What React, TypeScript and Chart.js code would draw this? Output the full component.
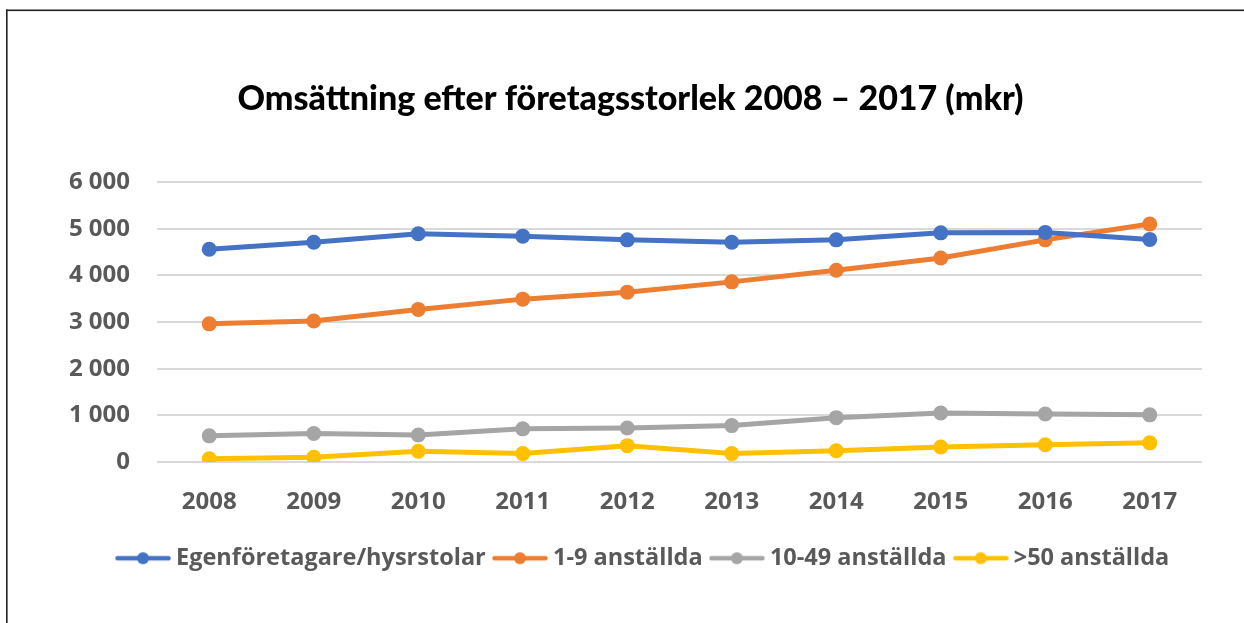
import React, { useEffect, useRef } from "react";
import { Chart, registerables } from "chart.js";

Chart.register(...registerables);

const years = ["2008", "2009", "2010", "2011", "2012", "2013", "2014", "2015", "2016", "2017"];
const egenforetagare = [4560, 4710, 4890, 4840, 4760, 4710, 4760, 4910, 4920, 4770];
const anstallda1to9 = [2960, 3020, 3270, 3490, 3640, 3860, 4110, 4370, 4760, 5100];
const anstallda10to49 = [560, 610, 580, 710, 730, 780, 950, 1050, 1030, 1010];
const anstallda50plus = [70, 100, 230, 180, 350, 180, 240, 320, 370, 410];

const seriesLabels = ["Egenföretagare/hysrstolar", "1-9 anställda", "10-49 anställda", ">50 anställda"];
const seriesColors = ["#4472C4", "#ED7D31", "#A5A5A5", "#FFC000"];
const titleText = "Omsättning efter företagsstorlek 2008 – 2017 (mkr)";

function makeLegendIcon(color: string): HTMLCanvasElement {
  const c = document.createElement("canvas");
  c.width = 56;
  c.height = 14;
  const ctx = c.getContext("2d")!;
  ctx.strokeStyle = color;
  ctx.lineWidth = 4.5;
  ctx.lineCap = "round";
  ctx.beginPath();
  ctx.moveTo(2.5, 7);
  ctx.lineTo(53.5, 7);
  ctx.stroke();
  ctx.fillStyle = color;
  ctx.beginPath();
  ctx.arc(28, 7, 6, 0, Math.PI * 2);
  ctx.fill();
  return c;
}

const framePlugin = {
  id: "frame",
  beforeDraw(chart: any) {
    const ctx = chart.ctx;
    ctx.save();
    ctx.fillStyle = "#ffffff";
    ctx.fillRect(0, 0, chart.width, chart.height);
    ctx.fillStyle = "#222222";
    ctx.fillRect(6, 9.5, chart.width - 6, 1.6);
    ctx.fillRect(6, 9.5, 1.6, chart.height - 9.5);
    ctx.restore();
  },
  afterLayout(chart: any) {
    if (chart.legend) {
      chart.legend.left += 15;
      chart.legend.right += 15;
    }
  },
};

export default function App() {
  const canvasRef = useRef<HTMLCanvasElement | null>(null);

  useEffect(() => {
    if (!canvasRef.current) return;
    const icons = seriesColors.map((c) => makeLegendIcon(c));
    const values = [egenforetagare, anstallda1to9, anstallda10to49, anstallda50plus];
    const chart = new Chart(canvasRef.current, {
      type: "line",
      data: {
        labels: years,
        datasets: values.map((v, i) => ({
          label: seriesLabels[i],
          data: v,
          borderColor: seriesColors[i],
          backgroundColor: seriesColors[i],
          borderWidth: 5,
          pointRadius: 7.5,
          pointBorderWidth: 0,
          pointBackgroundColor: seriesColors[i],
          pointHoverRadius: 7.5,
          tension: 0,
          fill: false,
        })),
      },
      options: {
        animation: false,
        responsive: true,
        maintainAspectRatio: false,
        layout: { padding: { left: 59, right: 42, top: 0, bottom: 43 } },
        plugins: {
          tooltip: { enabled: false },
          title: {
            display: true,
            text: titleText,
            color: "#000000",
            font: { family: "Lato", size: 34, weight: "900", lineHeight: 1.2 },
            padding: { top: 79, bottom: 62.2 },
          },
          legend: {
            display: true,
            position: "bottom",
            labels: {
              usePointStyle: true,
              pointStyleWidth: 42.5,
              padding: 13,
              color: "#595959",
              font: { family: "'Open Sans'", size: 23.5, weight: "bold" },
              generateLabels: (ch: any) =>
                ch.data.datasets.map((ds: any, i: number) => ({
                  text: ds.label,
                  fillStyle: ds.borderColor,
                  strokeStyle: ds.borderColor,
                  lineWidth: 0,
                  pointStyle: icons[i],
                  hidden: false,
                  datasetIndex: i,
                  fontColor: "#595959",
                })),
            },
          },
        },
        scales: {
          x: {
            offset: true,
            grid: { display: false, drawTicks: false, offset: true },
            border: { display: false },
            ticks: {
              color: "#595959",
              padding: 26,
              font: { family: "'Open Sans'", size: 24, weight: "bold" },
            },
            afterFit: (scale: any) => {
              scale.height = 71.5;
            },
          },
          y: {
            min: 0,
            max: 6000,
            grid: { color: "#D9D9D9", lineWidth: 2, drawTicks: false },
            border: { display: false },
            ticks: {
              stepSize: 1000,
              color: "#595959",
              padding: 27,
              font: { family: "'Open Sans'", size: 24, weight: "bold" },
              callback: (v: any) => String(v).replace(/\B(?=(\d{3})+(?!\d))/g, " "),
            },
            afterFit: (scale: any) => {
              scale.width = 98;
            },
          },
        },
      },
      plugins: [framePlugin],
    });
    return () => chart.destroy();
  }, []);

  return (
    <div style={{ position: "fixed", left: 0, top: 0, width: 1244, height: 623, background: "#fff" }}>
      <canvas ref={canvasRef} />
    </div>
  );
}
